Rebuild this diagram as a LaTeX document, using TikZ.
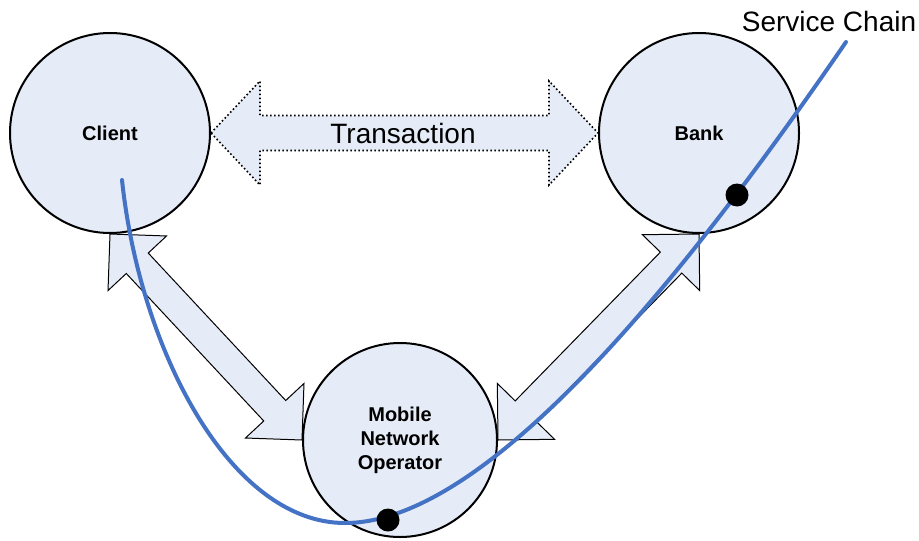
\documentclass[tikz,border=0pt]{standalone}
\usepackage{fontspec}
\setmainfont{Liberation Sans}
\usetikzlibrary{calc, backgrounds}
\definecolor{partyfill}{HTML}{E6ECF7}
\definecolor{chainblue}{HTML}{4472C4}
\tikzstyle{party} = [circle, draw=black, line width=1pt, fill=partyfill, inner sep=0pt, minimum size=100pt, align=center, font=\bfseries\fontsize{10}{12}\selectfont]
\tikzstyle{link} = [draw=black, line width=0.5pt, fill=partyfill, line join=miter]
\tikzstyle{txlink} = [link, line width=0.8pt, dash pattern=on 0.8pt off 1.2pt]
\tikzstyle{chain} = [line width=2pt, chainblue, line cap=round]
\tikzstyle{stop} = [circle, fill=black, inner sep=0pt, minimum size=11.5pt]
\tikzstyle{bigtext} = [font=\fontsize{14}{17}\selectfont, anchor=base]
% fat double arrow: style, from, to, head length, head half width, shaft half width
\newcommand{\fatarrow}[6][]{%
  \draw[#1] (#2)
    -- ($(#2)!#4!(#3)!#5!90:(#3)$)
    -- ($(#2)!#4!(#3)!#6!90:(#3)$)
    -- ($(#3)!#4!(#2)!#6!-90:(#2)$)
    -- ($(#3)!#4!(#2)!#5!-90:(#2)$)
    -- (#3)
    -- ($(#3)!#4!(#2)!#5!90:(#2)$)
    -- ($(#3)!#4!(#2)!#6!90:(#2)$)
    -- ($(#2)!#4!(#3)!#6!-90:(#3)$)
    -- ($(#2)!#4!(#3)!#5!-90:(#3)$)
    -- cycle;}
\begin{document}
\begin{tikzpicture}[x=0.5pt, y=-0.5pt]
			\useasboundingbox (0,0) rectangle (919,540);
			%三个参与方
			\node (client) [party] at (110,133) {Client};
			\node (bank) [party] at (699,133) {Bank};
			\node (mno) [party, minimum size=97pt] at (400,440) {Mobile\\Network\\Operator};
			%双向箭头
			\begin{scope}[on background layer]
			\fatarrow[txlink]{client.east}{bank.west}{24.5pt}{26pt}{8.75pt}
			\fatarrow[link]{client.south}{mno.west}{20pt}{20pt}{7.5pt}
			\fatarrow[link]{bank.south}{mno.east}{20pt}{20pt}{7.5pt}
			\end{scope}
			\node (txn) [bigtext] at (403,143) {Transaction};
			%服务链
			\coordinate (scstart) at (122,180);
			\coordinate (scend) at (846,42);
			\node (sclabel) [bigtext] at (829,32) {Service Chain};
			\draw [chain] (scstart) .. controls (140,350) and (230,523) .. (345,523)
				.. controls (470,523) and (645,335) .. (scend);
			\node (bankstop) [stop] at (737,195) {};
			\node (mnostop) [stop] at (388,520) {};
		\end{tikzpicture}
\end{document}
